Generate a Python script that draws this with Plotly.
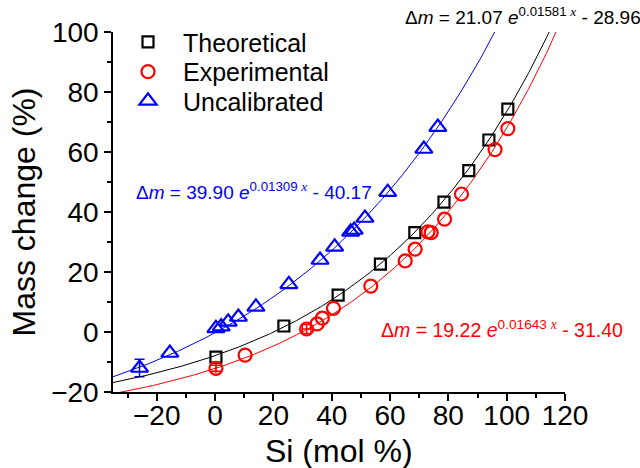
import numpy as np
import plotly.graph_objects as go

# Theoretical mass change vs Si content
theo_x = [0.3, 23.6, 42.2, 56.7, 68.5, 78.5, 87.0, 93.9, 100.4]
theo_y = [-8.4, 2.0, 12.3, 22.6, 33.1, 43.3, 53.8, 64.0, 74.3]

# Experimental mass change
exp_x = [0.3, 10.3, 31.4, 35.0, 36.8, 40.6, 53.4, 65.2, 68.6, 73.0, 74.1, 78.7, 84.5, 96.0, 100.4]
exp_y = [-12.1, -7.7, 1.0, 2.7, 4.6, 7.9, 15.3, 23.7, 27.6, 33.4, 33.1, 37.6, 46.0, 60.8, 67.8]
exp_err_y = [1.0, 0, 1.5, 0, 0, 0, 0, 0, 0, 0, 0, 0, 0, 0, 0]
exp_err_x = [0, 0, 1.5, 0, 0, 0, 0, 0, 0, 0, 0, 0, 0, 0, 0]

# Uncalibrated mass change
unc_x = [-25.9, -15.5, 0.3, 2.1, 4.5, 8.0, 14.0, 25.3, 36.0, 41.0, 46.5, 47.7, 51.4, 59.2, 71.6, 76.4]
unc_y = [-12.0, -7.0, 1.2, 1.8, 3.4, 5.0, 8.4, 15.9, 24.0, 28.4, 33.4, 34.0, 38.0, 46.6, 61.0, 68.3]
unc_err_y = [2.9, 0, 0, 0, 0, 0, 0, 0, 0, 0, 0, 0, 0, 0, 0, 0]

# Exponential fits: dm = a * exp(b x) + c
fit_theo = [21.07, 0.01581, -28.96]
fit_exp = [19.22, 0.01643, -31.40]
fit_unc = [39.90, 0.01309, -40.17]

x_ticks = [-20, 0, 20, 40, 60, 80, 100, 120]
y_ticks = [-20, 0, 20, 40, 60, 80, 100]

BLACK = "#000000"
RED = "#ff0000"
BLUE = "#0000ff"
FONT = "Liberation Sans, Arial, sans-serif"

fig = go.Figure()


def err_trace(xs, ys, ex, ey, color, symbol, size):
    idx = [i for i in range(len(xs)) if (ey[i] if ey else 0) > 0 or (ex[i] if ex else 0) > 0]
    if not idx:
        return
    kw = {}
    if ey:
        kw["error_y"] = dict(type="data", array=[ey[i] for i in idx], color=color,
                             thickness=1.5, width=5)
    if ex:
        kw["error_x"] = dict(type="data", array=[ex[i] for i in idx], color=color,
                             thickness=1.5, width=5)
    fig.add_trace(go.Scatter(
        x=[xs[i] for i in idx], y=[ys[i] for i in idx], mode="markers",
        marker=dict(symbol=symbol, size=size, color=color, opacity=0),
        showlegend=False, hoverinfo="skip", **kw))


err_trace(exp_x, exp_y, exp_err_x, exp_err_y, RED, "circle-open", 13)
err_trace(unc_x, unc_y, None, unc_err_y, BLUE, "triangle-up-open", 15)

fig.add_trace(go.Scatter(
    x=theo_x, y=theo_y, mode="markers", name="Theoretical", legend="legend",
    marker=dict(symbol="square-open", size=11, color=BLACK, line=dict(width=2.2))))
fig.add_trace(go.Scatter(
    x=exp_x, y=exp_y, mode="markers", name="Experimental", legend="legend2",
    marker=dict(symbol="circle-open", size=13, color=RED, line=dict(width=2.2))))
fig.add_trace(go.Scatter(
    x=unc_x, y=unc_y, mode="markers", name="Uncalibrated", legend="legend3",
    marker=dict(symbol="triangle-up-open", size=15, color=BLUE, line=dict(width=2.2))))

xs = np.linspace(-35, 120, 400)
for (a, b, c), col in [(fit_theo, BLACK), (fit_exp, RED), (fit_unc, BLUE)]:
    fig.add_trace(go.Scatter(
        x=xs, y=a * np.exp(b * xs) + c, mode="lines",
        line=dict(color=col, width=1), showlegend=False, hoverinfo="skip"))


def eq_text(a, b, c):
    return ("\u0394<i>m</i> = %.2f <i>e</i><sup>%.5f <span style=\"font-family:Liberation Serif\"><i>x</i></span></sup> - %.2f"
            % (a, b, -c))


ann_font = 19
fig.add_annotation(xref="paper", yref="paper", x=0.642, y=1.044, xanchor="left", yanchor="middle",
                   text=eq_text(*fit_theo), showarrow=False,
                   font=dict(family=FONT, size=ann_font, color=BLACK))
fig.add_annotation(xref="paper", yref="paper", x=0.047, y=0.558, xanchor="left", yanchor="middle",
                   text=eq_text(*fit_unc), showarrow=False,
                   font=dict(family=FONT, size=ann_font, color=BLUE))
fig.add_annotation(xref="paper", yref="paper", x=0.589, y=0.175, xanchor="left", yanchor="middle",
                   text=eq_text(*fit_exp), showarrow=False,
                   font=dict(family=FONT, size=ann_font + 0.5, color=RED))

# x-axis title placed below the tick labels
fig.add_annotation(xref="paper", yref="paper", x=0.5, y=-0.165, xanchor="center", yanchor="middle",
                   text="Si (mol %)", showarrow=False,
                   font=dict(family=FONT, size=32, color=BLACK))

axis_common = dict(
    showline=True, linecolor=BLACK, linewidth=1.5, mirror=False,
    ticks="outside", ticklen=7, tickwidth=1.5, tickcolor=BLACK,
    showgrid=False, zeroline=False, automargin=False,
    tickfont=dict(family=FONT, size=28, color=BLACK),
)

legend_common = dict(xanchor="left", yanchor="top", x=0.0,
                     font=dict(family=FONT, size=25, color=BLACK),
                     bgcolor="rgba(0,0,0,0)", itemwidth=60)

fig.update_layout(
    width=640, height=468, autosize=False,
    margin=dict(l=113, r=75, t=32, b=76),
    plot_bgcolor="white", paper_bgcolor="white",
    xaxis=dict(range=[-35, 120], tickvals=x_ticks, ticklabelstandoff=-9,
               minor=dict(tick0=0, dtick=10, ticks="outside", ticklen=4, tickwidth=1.5, tickcolor=BLACK),
               **axis_common),
    yaxis=dict(range=[-20, 100], tickvals=y_ticks,
               minor=dict(tick0=0, dtick=10, ticks="outside", ticklen=4, tickwidth=1.5, tickcolor=BLACK),
               title=dict(text="Mass change (%)", font=dict(family=FONT, size=32, color=BLACK), standoff=6),
               **axis_common),
    legend=dict(y=1.036, **legend_common),
    legend2=dict(y=0.953, **legend_common),
    legend3=dict(y=0.872, **legend_common),
    showlegend=True,
)

fig.write_html("out.html")
